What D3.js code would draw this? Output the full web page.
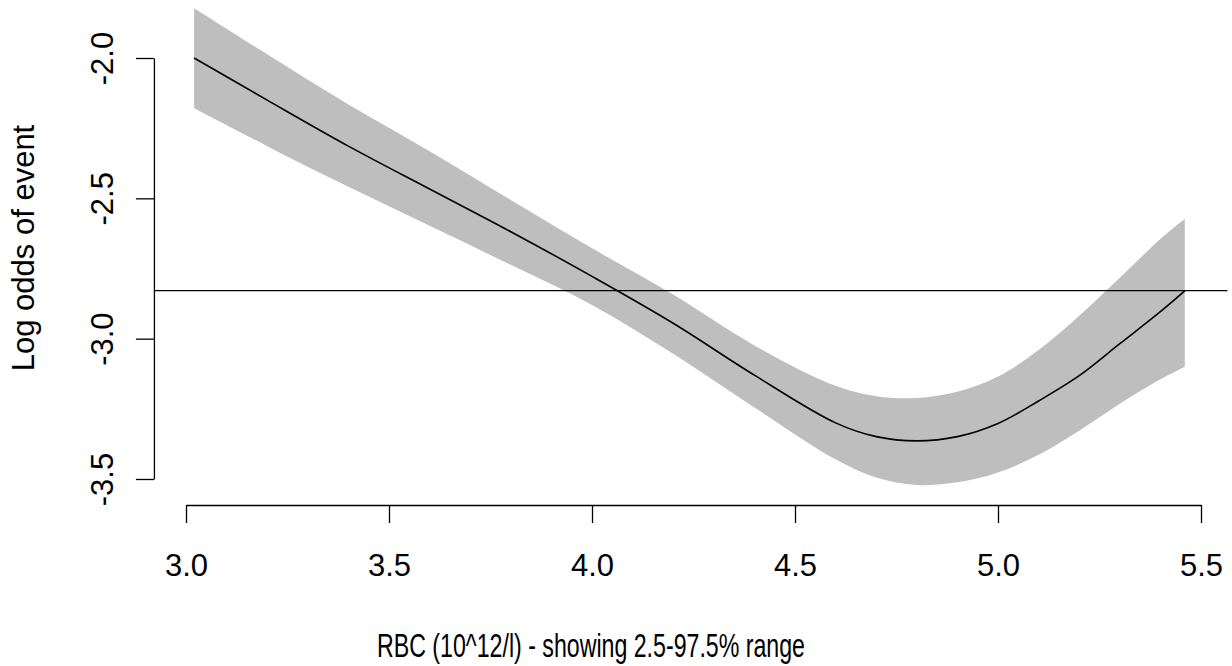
<!DOCTYPE html>
<html>
<head>
<meta charset="utf-8">
<script src="https://cdn.jsdelivr.net/npm/d3@7"></script>
<style>
  html, body { margin: 0; padding: 0; background: #ffffff; }
  svg { display: block; }
  text { font-family: "Liberation Sans", Arial, sans-serif; fill: #000; }
</style>
</head>
<body>
<svg id="chart" width="1232" height="666"></svg>
<script>
// ---- data ----
const rbc      = [3.02, 3.2, 3.4, 3.6, 3.8, 4.0, 4.2, 4.4, 4.6, 4.7, 4.8, 4.9, 5.0, 5.1, 5.2, 5.3, 5.4, 5.46];
const logOdds  = [-2.00, -2.150, -2.314, -2.467, -2.619, -2.778, -2.945, -3.130, -3.300, -3.349, -3.364, -3.349, -3.302, -3.222, -3.132, -3.018, -2.904, -2.83];
const upperCI  = [-1.823, -1.987, -2.166, -2.332, -2.506, -2.678, -2.843, -3.024, -3.168, -3.205, -3.211, -3.189, -3.135, -3.040, -2.918, -2.783, -2.645, -2.574];
const lowerCI  = [-2.179, -2.314, -2.459, -2.598, -2.737, -2.880, -3.054, -3.245, -3.430, -3.495, -3.521, -3.512, -3.477, -3.414, -3.328, -3.232, -3.145, -3.100];
const refLine  = -2.829;
const xTicks   = [3.0, 3.5, 4.0, 4.5, 5.0, 5.5];
const yTicks   = [-2.0, -2.5, -3.0, -3.5];
const xLim     = [2.921, 5.565];
const xTitle   = "RBC (10^12/l) - showing 2.5-97.5% range";
const yTitle   = "Log odds of event";

// ---- layout ----
const svg = d3.select("#chart");
const x = d3.scaleLinear().domain([3.0, 5.5]).range([186, 1201]);
const y = d3.scaleLinear().domain([-2.0, -3.5]).range([58, 479]);
const axisY0 = 505;          // x-axis line position
const axisX0 = x(xLim[0]);   // y-axis line position
const fmt = d => d.toFixed(1);

const pts = rbc.map((v, i) => ({ x: v, y: logOdds[i], lo: lowerCI[i], hi: upperCI[i] }));

// confidence band
const area = d3.area()
  .x(d => x(d.x))
  .y0(d => y(d.lo))
  .y1(d => y(d.hi))
  .curve(d3.curveCatmullRom.alpha(0.5));
svg.append("path")
  .datum(pts)
  .attr("d", area)
  .attr("fill", "#bebebe")
  .attr("stroke", "none");

// fitted line
const line = d3.line()
  .x(d => x(d.x))
  .y(d => y(d.y))
  .curve(d3.curveCatmullRom.alpha(0.5));
svg.append("path")
  .datum(pts)
  .attr("d", line)
  .attr("fill", "none")
  .attr("stroke", "#000")
  .attr("stroke-width", 1.6);

// reference horizontal line
svg.append("line")
  .attr("x1", x(xLim[0])).attr("x2", x(xLim[1]))
  .attr("y1", y(refLine)).attr("y2", y(refLine))
  .attr("stroke", "#000")
  .attr("stroke-width", 1.3);

// x axis
const gx = svg.append("g")
  .attr("transform", `translate(0,${axisY0})`)
  .call(d3.axisBottom(x).tickValues(xTicks).tickSize(18).tickSizeOuter(0).tickFormat(fmt));
gx.selectAll(".tick text")
  .attr("y", 71).attr("dy", 0)
  .style("font-size", "31px")
  .style("font-family", "'Liberation Sans', Arial, sans-serif");

// y axis
const gy = svg.append("g")
  .attr("transform", `translate(${axisX0},0)`)
  .call(d3.axisLeft(y).tickValues(yTicks).tickSize(18).tickSizeOuter(0).tickFormat(fmt));
gy.selectAll(".tick text")
  .attr("x", 0).attr("y", 0).attr("dy", 0)
  .attr("text-anchor", "middle")
  .attr("transform", "translate(-41,0) rotate(-90)")
  .style("font-size", "31px")
  .style("font-family", "'Liberation Sans', Arial, sans-serif");
svg.selectAll(".domain, .tick line").attr("stroke", "#000").attr("stroke-width", 1.3);

// axis titles
svg.append("text")
  .attr("x", 591).attr("y", 657)
  .attr("text-anchor", "middle")
  .attr("textLength", 428)
  .attr("lengthAdjust", "spacingAndGlyphs")
  .style("font-size", "33px")
  .text(xTitle);

svg.append("text")
  .attr("transform", "translate(34,248) rotate(-90)")
  .attr("text-anchor", "middle")
  .style("font-size", "31px")
  .text(yTitle);
</script>
</body>
</html>
